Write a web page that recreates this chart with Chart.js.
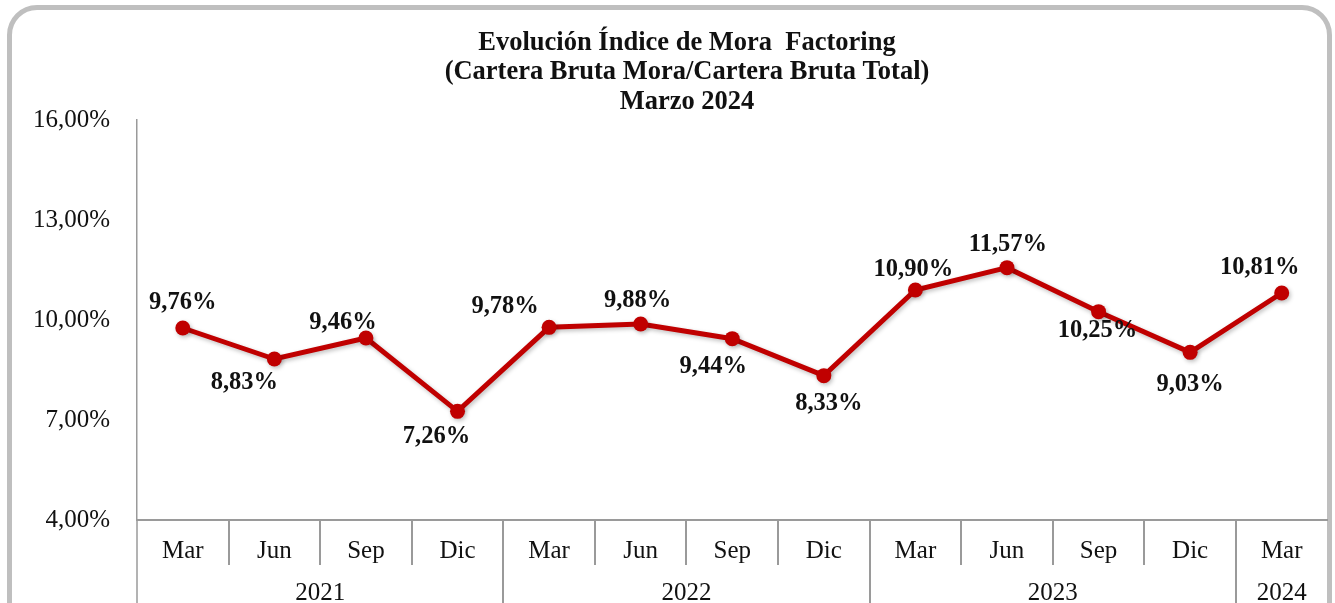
<!DOCTYPE html>
<html>
<head>
<meta charset="utf-8">
<script src="https://cdn.jsdelivr.net/npm/chart.js@4.4.1/dist/chart.umd.min.js"></script>
<style>
  html, body { margin: 0; padding: 0; background: #fff; overflow: hidden; }
  #frame {
    position: absolute; left: 7px; top: 5px; width: 1315px; height: 640px;
    border: 5px solid #bfbfbf; border-radius: 30px; background: #fff;
  }
  #wrap { position: absolute; left: 0; top: 0; width: 1335px; height: 603px; }
</style>
</head>
<body>
<div id="frame"></div>
<div id="wrap"><canvas id="moraChart" width="1335" height="603"></canvas></div>
<script>
// Chart data
const months = ['Mar', 'Jun', 'Sep', 'Dic', 'Mar', 'Jun', 'Sep', 'Dic', 'Mar', 'Jun', 'Sep', 'Dic', 'Mar'];
const years = ['2021', '2022', '2023', '2024'];
const yearSpans = [4, 4, 4, 1];
const moraValues = [9.76, 8.83, 9.46, 7.26, 9.78, 9.88, 9.44, 8.33, 10.90, 11.57, 10.25, 9.03, 10.81];
const yTicks = [4, 7, 10, 13, 16];
const titleLines = ['Evolución Índice de Mora  Factoring', '(Cartera Bruta Mora/Cartera Bruta Total)', 'Marzo 2024'];

const serif = '"Liberation Serif", "Times New Roman", serif';
const fmtPct = v => v.toFixed(2).replace('.', ',') + '%';

// label offsets from each point (dx, dy)
const labelOffsets = [
    [0, -25], [-30, 24], [-23, -15], [-21, 25], [-44, -21], [-3, -23], [-19, 28],
    [5, 28], [-2, -20], [1, -23], [-1, 19], [0, 32], [-22, -25]
];

const titlePlugin = {
    id: 'titlePlugin',
    afterDraw(chart) {
        const ctx = chart.ctx;
        ctx.save();
        ctx.font = 'bold 26.5px ' + serif;
        ctx.fillStyle = '#111';
        ctx.textAlign = 'center';
        ctx.textBaseline = 'middle';
        titleLines.forEach((t, i) => ctx.fillText(t, 687, 43 + i * 29.5));
        ctx.restore();
    }
};

const shadowPlugin = {
    id: 'shadowPlugin',
    beforeDatasetDraw(chart) {
        const ctx = chart.ctx;
        ctx.save();
        ctx.shadowColor = 'rgba(0,0,0,0.25)';
        ctx.shadowBlur = 4;
        ctx.shadowOffsetX = 1.5;
        ctx.shadowOffsetY = 2;
    },
    afterDatasetDraw(chart) {
        chart.ctx.restore();
    }
};

const valueLabels = {
    id: 'valueLabels',
    afterDatasetsDraw(chart) {
        const ctx = chart.ctx;
        const meta = chart.getDatasetMeta(0);
        ctx.save();
        ctx.font = 'bold 24.5px ' + serif;
        ctx.fillStyle = '#111';
        ctx.textAlign = 'center';
        ctx.textBaseline = 'middle';
        meta.data.forEach((pt, i) => {
            const off = labelOffsets[i];
            ctx.fillText(fmtPct(moraValues[i]), pt.x + off[0], pt.y + off[1]);
        });
        ctx.restore();
    }
};

// two-row category axis: month separators and year groups
const groupAxis = {
    id: 'groupAxis',
    afterDraw(chart) {
        const ctx = chart.ctx;
        const x = chart.scales.x;
        const area = chart.chartArea;
        const half = (x.getPixelForValue(1) - x.getPixelForValue(0)) / 2;
        ctx.save();
        ctx.strokeStyle = '#9a9a9a';
        ctx.lineWidth = 2;
        // month separators
        for (let i = 1; i < months.length; i++) {
            const px = Math.round(x.getPixelForValue(i) - half);
            ctx.beginPath();
            ctx.moveTo(px, area.bottom);
            ctx.lineTo(px, area.bottom + 45);
            ctx.stroke();
        }
        // year separators + labels
        ctx.font = '25px ' + serif;
        ctx.fillStyle = '#111';
        ctx.textAlign = 'center';
        ctx.textBaseline = 'middle';
        let idx = 0;
        years.forEach((y, k) => {
            const start = x.getPixelForValue(idx) - half;
            const end = x.getPixelForValue(idx + yearSpans[k] - 1) + half;
            if (k > 0) {
                ctx.beginPath();
                ctx.moveTo(Math.round(start), area.bottom);
                ctx.lineTo(Math.round(start), chart.height);
                ctx.stroke();
            }
            ctx.fillText(y, (start + end) / 2, area.bottom + 73);
            idx += yearSpans[k];
        });
        // left axis continues down
        ctx.lineWidth = 1.5;
        ctx.beginPath();
        ctx.moveTo(area.left, area.bottom);
        ctx.lineTo(area.left, chart.height);
        ctx.stroke();
        ctx.restore();
    }
};

new Chart(document.getElementById('moraChart'), {
    type: 'line',
    data: {
        labels: months,
        datasets: [{
            data: moraValues,
            borderColor: '#c00000',
            backgroundColor: '#c00000',
            borderWidth: 5,
            pointRadius: 7.5,
            pointBorderWidth: 0,
            pointBackgroundColor: '#c00000',
            tension: 0,
            fill: false
        }]
    },
    options: {
        responsive: false,
        animation: false,
        layout: { padding: { top: 120, right: 4, left: 0, bottom: 0 } },
        plugins: { legend: { display: false }, tooltip: { enabled: false } },
        scales: {
            x: {
                offset: true,
                grid: { display: false },
                border: { color: '#9a9a9a', width: 2 },
                ticks: {
                    color: '#111',
                    font: { family: serif, size: 25 },
                    padding: 8,
                    maxRotation: 0,
                    autoSkip: false
                },
                afterFit(scale) { scale.height = 83; }
            },
            y: {
                min: 4,
                max: 16,
                afterBuildTicks(scale) { scale.ticks = yTicks.map(v => ({ value: v })); },
                grid: { display: false },
                border: { color: '#9a9a9a', width: 1.5 },
                ticks: {
                    color: '#111',
                    font: { family: serif, size: 25 },
                    padding: 19,
                    callback: v => fmtPct(v)
                },
                afterFit(scale) { scale.width = 137; }
            }
        }
    },
    plugins: [shadowPlugin, valueLabels, groupAxis, titlePlugin]
});
</script>
</body>
</html>
